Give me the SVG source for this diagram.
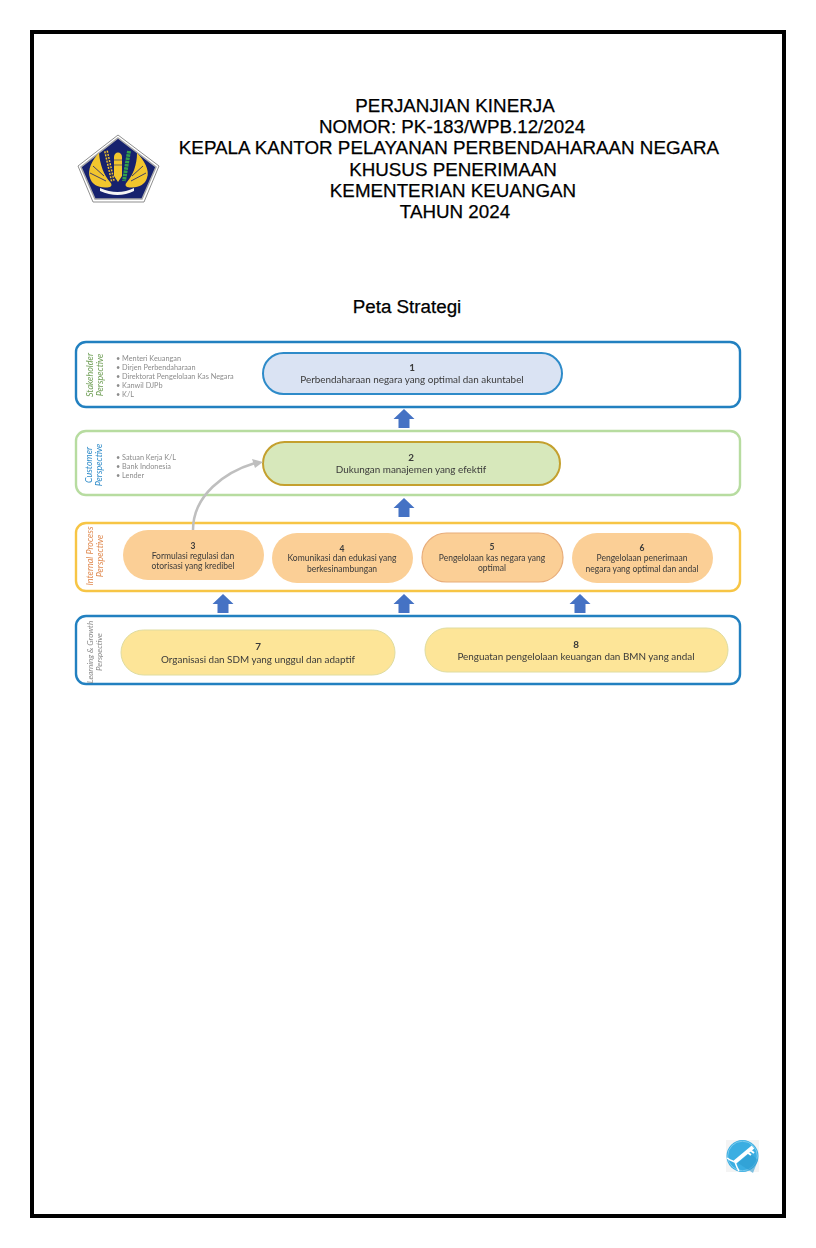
<svg xmlns="http://www.w3.org/2000/svg" width="816" height="1248" viewBox="0 0 816 1248">
<style>
.t{font-family:"Liberation Sans",Arial,sans-serif;font-size:18.800px;fill:#000;stroke:#000;stroke-width:.25;text-anchor:middle}
.n{font-family:Lato,"Noto Sans",sans-serif;fill:#3a3a3a;text-anchor:middle;font-size:8.500px}
.l{font-size:9.900px}
.nb{font-weight:700}
.b{font-family:Lato,"Noto Sans",sans-serif;fill:#8c8c8c;font-size:7.300px}
.p{font-family:Lato,"Noto Sans",sans-serif;font-size:9px;font-style:italic;text-anchor:middle}
.band{fill:#fff;stroke-width:2.400}
.or{fill:#fbcf96}
.ye{fill:#fde598;stroke:#dfdca0;stroke-width:1}
</style>
<defs>
<path id="up" d="M0-10 10.500 0H5.500V9H-5.500V0H-10.500Z" fill="#4472c4"/>
<filter id="soft" filterUnits="userSpaceOnUse" x="60" y="120" width="700" height="1060"><feGaussianBlur stdDeviation="0.350"/></filter>
</defs>
<rect id="page-frame" x="32" y="32" width="752" height="1184" fill="#fff" stroke="#000" stroke-width="4"/>
<g id="title">
<text class="t" x="455" y="112">PERJANJIAN KINERJA</text>
<text class="t" x="452" y="133">NOMOR: PK-183/WPB.12/2024</text>
<text class="t" x="449" y="154">KEPALA KANTOR PELAYANAN PERBENDAHARAAN NEGARA</text>
<text class="t" x="453" y="176">KHUSUS PENERIMAAN</text>
<text class="t" x="453" y="197">KEMENTERIAN KEUANGAN</text>
<text class="t" x="455" y="218">TAHUN 2024</text>
<text class="t" x="407" y="313">Peta Strategi</text>
</g>
<g filter="url(#soft)">
<g id="logo">
<path d="M118 135 159 166 144 202H93L78 166Z" fill="#fff" stroke="#8f8f8f" stroke-width="1"/>
<path d="M118 138 156 167 142 199H95L81 167Z" fill="#15206e" stroke="#a8a8a8" stroke-width="1.500"/>
<path d="M99 153C92 160 87 170 90 178 92 185 100 189 110 187 112 186 112 184 110 182 104 175 100 165 99 153Z" fill="#f2c62f"/>
<path d="M137 153C144 160 150 170 147 178 145 185 137 189 127 187 125 186 125 184 127 182 133 175 137 165 137 153Z" fill="#f2c62f"/>
<path d="M93 166 104 176M90 173 106 181M143 166 132 176M146 173 131 181" stroke="#15206e" stroke-width=".800"/>
<path d="M114 157C114 151 122 151 122 157V176L118 182 114 176Z" fill="#f2c62f"/>
<path d="M114 160H122M114 165H122" stroke="#15206e" stroke-width=".600"/>
<path d="M106 151 113 182" stroke="#f2c62f" stroke-width="4" stroke-dasharray="2 1.200"/>
<path d="M106 151 113 182" stroke="#3a3550" stroke-width="1.200"/>
<path d="M129 151 124 181" stroke="#35a24a" stroke-width="4" stroke-dasharray="2.500 .8"/>
<path d="M100 188Q118 196 134 188V191Q118 199 100 191Z" fill="#f4f4f4"/>
</g>
<g id="band-stakeholder">
<rect class="band" x="76" y="342" width="664" height="65" rx="10" stroke="#2080c0"/>
</g>
<g id="band-customer">
<rect class="band" x="76" y="431" width="664" height="64" rx="10" stroke="#b7dca0"/>
</g>
<g id="band-internal">
<rect class="band" x="76" y="523" width="664" height="68" rx="10" stroke="#f7c544"/>
</g>
<g id="band-learning">
<rect class="band" x="76" y="616" width="664" height="68" rx="10" stroke="#2080c0"/>
</g>
<g id="node-1">
<rect x="263" y="353" width="299" height="41" rx="20.500" fill="#dae3f3" stroke="#2e8bc9" stroke-width="2"/>
<text class="n l nb" x="412" y="371">1</text>
<text class="n l" x="412" y="383">Perbendaharaan negara yang optimal dan akuntabel</text>
</g>
<g id="node-2">
<rect x="263" y="442" width="297" height="43" rx="21.500" fill="#d7e8bb" stroke="#c4a02e" stroke-width="2"/>
<text class="n l nb" x="411" y="461">2</text>
<text class="n l" x="411" y="473">Dukungan manajemen yang efektif</text>
</g>
<g id="node-3">
<rect class="or" x="123" y="530" width="141" height="50" rx="25"/>
<text class="n nb" x="193" y="549">3</text>
<text class="n" x="193" y="559">Formulasi regulasi dan</text>
<text class="n" x="193" y="569">otorisasi yang kredibel</text>
</g>
<g id="node-4">
<rect class="or" x="272" y="533" width="141" height="50" rx="25"/>
<text class="n nb" x="342" y="552">4</text>
<text class="n" x="342" y="561">Komunikasi dan edukasi yang</text>
<text class="n" x="342" y="572">berkesinambungan</text>
</g>
<g id="node-5">
<rect class="or" x="422" y="533" width="141" height="49" rx="24.500" stroke="#e8ad7a" stroke-width="1.200"/>
<text class="n nb" x="492" y="550">5</text>
<text class="n" x="492" y="561">Pengelolaan kas negara yang</text>
<text class="n" x="492" y="571">optimal</text>
</g>
<g id="node-6">
<rect class="or" x="572" y="533" width="141" height="50" rx="25"/>
<text class="n nb" x="642" y="551">6</text>
<text class="n" x="642" y="561">Pengelolaan penerimaan</text>
<text class="n" x="642" y="572">negara yang optimal dan andal</text>
</g>
<g id="node-7">
<rect class="ye" x="121" y="630" width="274" height="45" rx="22.500"/>
<text class="n l nb" x="258" y="650">7</text>
<text class="n l" x="258" y="663">Organisasi dan SDM yang unggul dan adaptif</text>
</g>
<g id="node-8">
<rect class="ye" x="425" y="628" width="303" height="44" rx="22"/>
<text class="n l nb" x="576" y="648">8</text>
<text class="n l" x="576" y="660">Penguatan pengelolaan keuangan dan BMN yang andal</text>
</g>
<g id="labels">
<text class="p" fill="#6f9e55" transform="translate(93,375) rotate(-90)">Stakeholder</text>
<text class="p" fill="#6f9e55" transform="translate(103,375) rotate(-90)">Perspective</text>
<text class="p" fill="#2e8bc9" transform="translate(92,465) rotate(-90)">Customer</text>
<text class="p" fill="#2e8bc9" transform="translate(102,465) rotate(-90)">Perspective</text>
<text class="p" fill="#e08a50" transform="translate(93,556) rotate(-90)">Internal Process</text>
<text class="p" fill="#e08a50" transform="translate(103,556) rotate(-90)">Perspective</text>
<text class="p" fill="#8a8a8a" transform="translate(93,652) rotate(-90)" style="font-size:8px">Learning &amp; Growth</text>
<text class="p" fill="#8a8a8a" transform="translate(102,652) rotate(-90)" style="font-size:8px">Perspective</text>
<text class="b" x="116" y="361">• Menteri Keuangan</text>
<text class="b" x="116" y="370">• Dirjen Perbendaharaan</text>
<text class="b" x="116" y="379">• Direktorat Pengelolaan Kas Negara</text>
<text class="b" x="116" y="388">• Kanwil DJPb</text>
<text class="b" x="116" y="397">• K/L</text>
<text class="b" x="116" y="460">• Satuan Kerja K/L</text>
<text class="b" x="116" y="469">• Bank Indonesia</text>
<text class="b" x="116" y="478">• Lender</text>
</g>
<g id="connectors">
<path d="M193 530C193 495 225 472 255 463" fill="none" stroke="#bfbfbf" stroke-width="2.500"/>
<path d="M263 462 252 459 255 468Z" fill="#bfbfbf"/>
<use href="#up" x="404" y="419"/>
<use href="#up" x="404" y="508"/>
<use href="#up" x="223" y="604"/>
<use href="#up" x="404" y="604"/>
<use href="#up" x="580" y="604"/>
</g>
<g id="badge">
<rect x="726" y="1140" width="33" height="32" fill="#f4f4f4"/>
<circle cx="742.500" cy="1156" r="16" fill="#3aaee2"/>
<circle cx="742.500" cy="1156" r="14.800" fill="none" stroke="#bfe6f7" stroke-width=".500"/>
<path d="M738 1163 753 1173 758 1160 750 1153Z" fill="#2f9bd0" opacity=".6"/>
<path d="M735 1162 753 1147" stroke="#fff" stroke-width="4"/>
<path d="M747 1152 751 1155M750 1150 754 1153" stroke="#fff" stroke-width="2"/>
<path d="M727 1158C731 1161 733 1161 735 1162 736 1165 737 1168 739 1171" fill="none" stroke="#fff" stroke-width="1.500"/>
</g>
</g>
</svg>
